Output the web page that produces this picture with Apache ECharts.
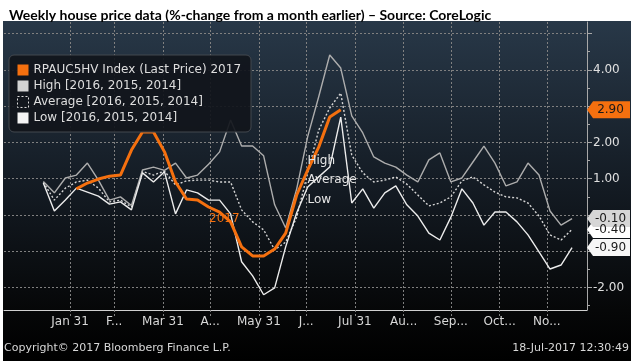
<!DOCTYPE html>
<html>
<head>
<meta charset="utf-8">
<script src="https://cdn.jsdelivr.net/npm/echarts@6/dist/echarts.min.js"></script>
<style>
  html, body { margin: 0; padding: 0; background: #fff; }
  #chart { width: 633px; height: 361px; }
</style>
</head>
<body>
<div id="chart"></div>
<script>
// ---------------- data ----------------
const titleText = 'Weekly house price data (%-change from a month earlier) \u2013 Source: CoreLogic';
const footerLeft = 'Copyright\u00a9 2017 Bloomberg Finance L.P.';
const footerRight = '18-Jul-2017 12:30:49';

const seriesNames = [
  'RPAUC5HV Index (Last Price) 2017',
  'High [2016, 2015, 2014]',
  'Average [2016, 2015, 2014]',
  'Low [2016, 2015, 2014]'
];
const annotationTexts = ['2017', 'High', 'Average', 'Low'];

// month-end day-of-year ticks and their labels
const monthEndDays = [31, 59, 90, 120, 151, 181, 212, 243, 273, 304, 334];
const monthLabels = ['Jan 31', 'F...', 'Mar 31', 'A...', 'May 31', 'J...', 'Jul 31', 'Au...', 'Sep...', 'Oct...', 'No...'];

// y ticks / visible y labels / minor ticks
const yTicks = [-2, -1, 0, 1, 2, 3, 4, 5];
const yLabels = [4, 2, 1, -2];
const yMinorTicks = [-2.5, -1.5, -0.5, 0.5, 1.5, 2.5, 3.5, 4.5];

// weekly observations: day-of-year of the first week, week step
const firstWeekDay = 14;
const weekStep = 7;

// 2017 (last price) starts at week index 3
const ytdStartWeek = 3;
const ytd = [0.72, 0.88, 0.99, 1.07, 1.10, 1.79, 2.29, 2.29, 1.74, 0.91,
             0.44, 0.41, 0.22, 0.08, -0.19, -0.88, -1.13, -1.13, -0.94, -0.50,
             0.55, 1.24, 1.87, 2.70, 2.90];

const high = [0.92, 0.61, 1.02, 1.10, 1.43, 0.96, 0.41, 0.50, 0.26, 1.24,
              1.32, 1.23, 1.43, 1.02, 1.10, 1.40, 1.74, 2.62, 1.90, 1.90,
              1.63, 0.28, -0.36, 0.72, 2.16, 3.26, 4.41, 4.05, 2.73, 2.26,
              1.60, 1.43, 1.32, 1.10, 0.91, 1.52, 1.71, 0.91, 1.02, 1.46,
              1.90, 1.43, 0.80, 0.91, 1.43, 1.10, 0.11, -0.28, -0.10];

const avg = [0.90, 0.41, 0.74, 0.91, 0.96, 0.74, 0.36, 0.41, 0.22, 1.20,
             1.10, 1.21, 0.83, 0.94, 0.96, 0.96, 0.91, 0.91, 0.14, -0.19,
             -0.41, -0.96, -0.75, -0.06, 1.16, 2.34, 2.95, 3.36, 1.65, 1.16,
             0.91, 0.96, 1.05, 0.85, 0.55, 0.25, 0.33, 0.50, 0.94, 1.05,
             0.83, 0.63, 0.50, 0.47, 0.33, -0.03, -0.55, -0.69, -0.40];

const low = [0.88, 0.11, 0.41, 0.74, 0.63, 0.52, 0.30, 0.36, 0.14, 1.16,
             0.91, 1.19, 0.03, 0.69, 0.61, 0.41, 0.41, 0.03, -1.29, -1.68,
             -2.20, -2.01, -0.88, 0.06, 0.77, 1.05, 1.32, 2.70, 0.33, 0.72,
             0.19, 0.61, 0.80, 0.28, -0.03, -0.50, -0.69, -0.06, 0.72, 0.33,
             -0.28, 0.08, 0.08, -0.19, -0.55, -1.02, -1.49, -1.38, -0.90];

// annotation anchor points (day-of-year, value)
const annotationAnchors = [[119, -0.11], [181.5, 1.49], [181.5, 0.96], [181.5, 0.41]];

// ---------------- chart ----------------
const FONT = 'DejaVu Sans';
const X_MIN = -11, X_MAX = 359.5;
const Y_MIN = -2.62, Y_MAX = 5.32;

const COL_YTD = '#f5700f';
const COL_HIGH = '#adadad';
const COL_AVG = '#d6d6d6';
const COL_LOW = '#ececec';
const GRID_COL = '#808080';

function toXY(arr, startWeek) {
  return arr.map((v, i) => [firstWeekDay + weekStep * (startWeek + i), v]);
}

function tagPoint(value, fill) {
  return {
    coord: [X_MAX, value],
    value: value,
    symbol: 'path://M0,8.5L6,0H43V17H6Z',
    symbolSize: [43, 17],
    symbolOffset: [21.5, 0],
    itemStyle: { color: fill },
    label: {
      show: true, position: 'inside', offset: [2, 0],
      formatter: value.toFixed(2), color: '#1a1a1a',
      fontFamily: FONT, fontSize: 12
    }
  };
}

function annotation(idx, color) {
  return {
    coord: annotationAnchors[idx],
    symbol: 'circle', symbolSize: 1,
    itemStyle: { color: 'rgba(0,0,0,0)' },
    label: {
      show: true, position: 'right', distance: 0,
      formatter: annotationTexts[idx], color: color,
      fontFamily: FONT, fontSize: 12
    }
  };
}

const chart = echarts.init(document.getElementById('chart'), null, { renderer: 'canvas', width: 633, height: 361 });

const option = {
  animation: false,
  backgroundColor: '#ffffff',
  title: {
    text: titleText, left: 4, top: 3,
    textStyle: { fontFamily: 'Lato', fontWeight: 'bold', fontSize: 14, color: '#000' }
  },
  graphic: [
    {
      type: 'rect', z: -100, silent: true,
      shape: { x: 3, y: 21, width: 628, height: 340 },
      style: {
        fill: new echarts.graphic.LinearGradient(0, 0, 0, 1, [
          { offset: 0, color: '#283848' },
          { offset: 0.45, color: '#151d26' },
          { offset: 0.85, color: '#060708' },
          { offset: 1, color: '#000000' }
        ])
      }
    },
    {
      type: 'text', left: 4, top: 343, silent: true,
      style: { text: footerLeft, fill: '#d8d8d8', font: '11px "DejaVu Sans"' }
    },
    {
      type: 'text', right: 4, top: 343, silent: true,
      style: { text: footerRight, fill: '#d8d8d8', font: '11px "DejaVu Sans"' }
    }
  ],
  grid: { left: 4, right: 46, top: 22, bottom: 51, containLabel: false },
  legend: {
    left: 9, top: 55, orient: 'vertical',
    itemWidth: 11, itemHeight: 11, itemGap: 2,
    backgroundColor: 'rgba(17,21,27,0.92)', borderColor: '#43484f', borderWidth: 1, borderRadius: 5,
    padding: [8, 10, 7, 8],
    selectedMode: false,
    textStyle: { color: '#dedede', fontFamily: FONT, fontSize: 12, lineHeight: 14 },
    data: [
      { name: seriesNames[0], icon: 'rect', itemStyle: { color: COL_YTD, borderWidth: 0 } },
      { name: seriesNames[1], icon: 'rect', itemStyle: { color: '#d2d2d2', borderWidth: 0 } },
      { name: seriesNames[2], icon: 'rect', itemStyle: { color: 'rgba(0,0,0,0)', borderColor: '#dcdcdc', borderWidth: 1, borderType: [2, 2] } },
      { name: seriesNames[3], icon: 'rect', itemStyle: { color: '#f4f4f4', borderWidth: 0 } }
    ]
  },
  xAxis: [{
    type: 'value', min: X_MIN, max: X_MAX,
    axisLine: { show: true, onZero: false, lineStyle: { color: '#d0d0d0', width: 1 } },
    axisTick: { show: true, customValues: monthEndDays, length: 7, lineStyle: { color: GRID_COL, type: [2, 2] } },
    axisLabel: {
      customValues: monthEndDays,
      formatter: v => monthLabels[monthEndDays.indexOf(v)],
      color: '#d8d8d8', fontFamily: FONT, fontSize: 12, margin: 6
    },
    splitLine: { show: true, lineStyle: { color: GRID_COL, width: 1, type: [2, 2] } }
  }],
  yAxis: [{
    type: 'value', position: 'right', min: Y_MIN, max: Y_MAX,
    axisLine: { show: true, onZero: false, lineStyle: { color: '#a8a8a8', width: 1 } },
    axisTick: { show: true, customValues: yTicks, length: 5, lineStyle: { color: '#a8a8a8' } },
    axisLabel: {
      customValues: yLabels,
      formatter: v => v.toFixed(2),
      color: '#e0e0e0', fontFamily: FONT, fontSize: 12, margin: 6
    },
    splitLine: { show: true, lineStyle: { color: GRID_COL, width: 1, type: [2, 2] } }
  }, {
    type: 'value', position: 'right', min: Y_MIN, max: Y_MAX,
    axisLine: { show: false, onZero: false },
    axisTick: { show: true, customValues: yMinorTicks, length: 3, lineStyle: { color: '#a8a8a8' } },
    axisLabel: { show: false },
    splitLine: { show: false }
  }],
  series: [
    {
      name: seriesNames[2], type: 'line', data: toXY(avg, 0),
      symbol: 'none', xAxisIndex: 0, yAxisIndex: 0,
      lineStyle: { color: COL_AVG, width: 1.4, type: [2, 2] },
      itemStyle: { color: COL_AVG },
      markPoint: { silent: true, data: [tagPoint(avg[avg.length - 1], '#ffffff'), annotation(2, '#e6e6e6')] }
    },
    {
      name: seriesNames[1], type: 'line', data: toXY(high, 0),
      symbol: 'none',
      lineStyle: { color: COL_HIGH, width: 1.4 },
      itemStyle: { color: COL_HIGH },
      markPoint: { silent: true, data: [tagPoint(high[high.length - 1], '#d6d6d6'), annotation(1, '#e6e6e6')] }
    },
    {
      name: seriesNames[3], type: 'line', data: toXY(low, 0),
      symbol: 'none',
      lineStyle: { color: COL_LOW, width: 1.4 },
      itemStyle: { color: COL_LOW },
      markPoint: { silent: true, data: [tagPoint(low[low.length - 1], '#f6f6f6'), annotation(3, '#e6e6e6')] }
    },
    {
      name: seriesNames[0], type: 'line', data: toXY(ytd, ytdStartWeek),
      symbol: 'none',
      lineStyle: { color: COL_YTD, width: 3 },
      itemStyle: { color: COL_YTD },
      markPoint: { silent: true, data: [tagPoint(ytd[ytd.length - 1], COL_YTD), annotation(0, COL_YTD)] }
    }
  ]
};
chart.setOption(option);
</script>
</body>
</html>
